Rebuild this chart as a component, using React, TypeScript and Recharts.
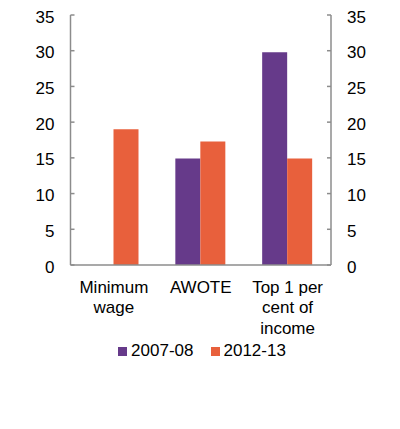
import React from "react";
import { BarChart, Bar, XAxis, YAxis, Legend, Text } from "recharts";

const categories = ["Minimum wage", "AWOTE", "Top 1 per cent of income"];
const series0708 = [null, 14.9, 29.8];
const series1213 = [19.0, 17.3, 14.9];
const seriesNames = ["2007-08", "2012-13"];
const yTicks = [0, 5, 10, 15, 20, 25, 30, 35];

const colors = ["#663a8a", "#e8603c"];
const axisColor = "#8c8c8c";
const font = "'Liberation Sans', Arial, sans-serif";

const data = categories.map((name, i) => ({
  name,
  a: series0708[i],
  b: series1213[i],
}));

const CategoryTick = (props: any) => {
  const { x, y, payload } = props;
  return (
    <Text
      x={x}
      y={y}
      width={87}
      textAnchor="middle"
      verticalAnchor="start"
      lineHeight="1.2em"
      fontSize={17}
      fontFamily={font}
      fill="#000"
    >
      {payload.value}
    </Text>
  );
};

const renderLegend = () => (
  <div
    style={{
      display: "flex",
      justifyContent: "center",
      gap: 17,
      fontFamily: font,
      fontSize: 17,
      color: "#000",
    }}
  >
    {seriesNames.map((n, i) => (
      <span key={n} style={{ display: "flex", alignItems: "center" }}>
        <span
          style={{
            display: "inline-block",
            width: 9,
            height: 9,
            background: colors[i],
            marginRight: 4,
          }}
        />
        {n}
      </span>
    ))}
  </div>
);

const yTick = { fill: "#000", fontSize: 17, fontFamily: font, dy: 1.5 };

export default function App() {
  return (
    <div style={{ position: "absolute", left: 0, top: 0 }}>
      <BarChart
        width={400}
        height={429}
        data={data}
        margin={{ top: 15, right: 0, left: 0, bottom: 0 }}
        barGap={0}
        barSize={25}
      >
        <XAxis
          xAxisId="grid"
          type="number"
          domain={[0, 3]}
          allowDataOverflow
          ticks={[1, 2]}
          tick={false}
          axisLine={false}
          tickSize={-5}
          height={0}
          stroke={axisColor}
          tickLine={{ stroke: axisColor, strokeWidth: 1.5 }}
        />
        <XAxis
          xAxisId="cat"
          dataKey="name"
          height={164}
          tickLine={false}
          tickSize={0}
          tickMargin={16}
          axisLine={{ stroke: axisColor, strokeWidth: 1.5 }}
          tick={<CategoryTick />}
          interval={0}
        />
        <YAxis
          yAxisId="left"
          orientation="left"
          width={70.5}
          domain={[0, 35]}
          allowDataOverflow
          ticks={yTicks}
          tickSize={-4}
          tickMargin={20}
          axisLine={{ stroke: axisColor, strokeWidth: 1.5 }}
          tickLine={{ stroke: axisColor, strokeWidth: 1.5 }}
          tick={yTick}
        />
        <YAxis
          yAxisId="right"
          orientation="right"
          width={69}
          domain={[0, 35]}
          allowDataOverflow
          ticks={yTicks}
          tickSize={-4}
          tickMargin={20}
          axisLine={{ stroke: axisColor, strokeWidth: 1.5 }}
          tickLine={{ stroke: axisColor, strokeWidth: 1.5 }}
          tick={yTick}
        />
        <Bar
          xAxisId="cat"
          yAxisId="left"
          dataKey="a"
          name={seriesNames[0]}
          fill={colors[0]}
          isAnimationActive={false}
        />
        <Bar
          xAxisId="cat"
          yAxisId="left"
          dataKey="b"
          name={seriesNames[1]}
          fill={colors[1]}
          isAnimationActive={false}
        />
        <Legend
          verticalAlign="middle"
          align="center"
          content={renderLegend}
          wrapperStyle={{ top: 341, left: 2, width: 400 }}
        />
      </BarChart>
    </div>
  );
}
